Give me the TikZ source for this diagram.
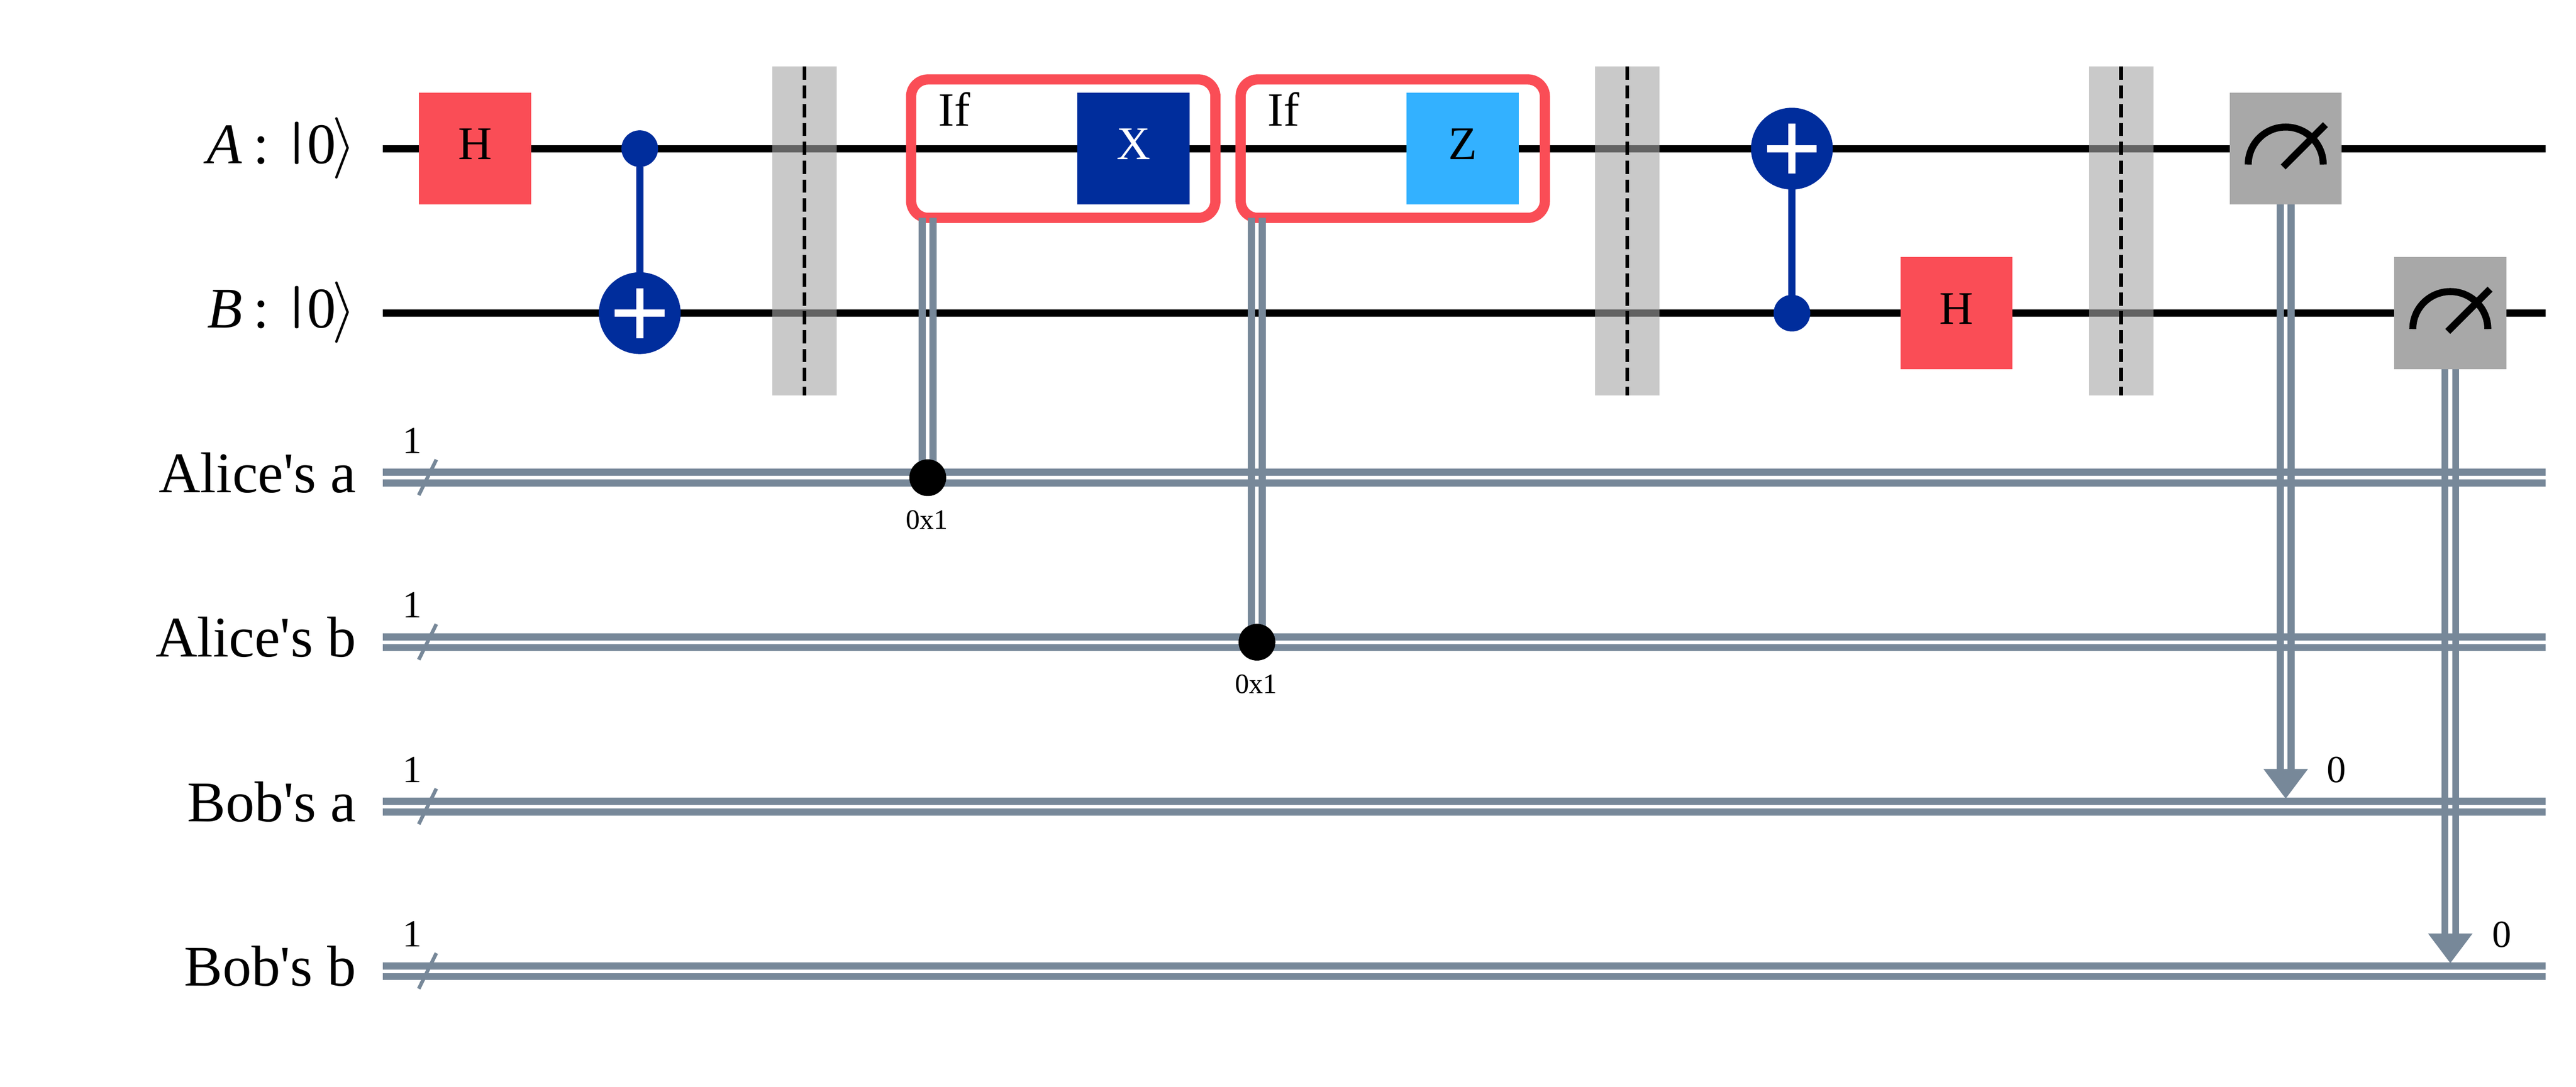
\documentclass[tikz,border=0pt]{standalone}
\usepackage{amsmath,amsfonts,amssymb}
\usepackage{fontspec}
\setmainfont{Liberation Serif}
\usetikzlibrary{arrows.meta}
\definecolor{gatered}{HTML}{FA4D56}
\definecolor{gateblue}{HTML}{002D9C}
\definecolor{gatesky}{HTML}{33B1FF}
\definecolor{gategray}{HTML}{A8A8A8}
\definecolor{slate}{HTML}{778899}
\definecolor{barrgray}{HTML}{A5A5A5}

\begin{document}
\begin{tikzpicture}[x=38.625pt, y=-38.625pt,
	qwire/.style={line width=1.66pt, black},
	cwire/.style={line width=1.66pt, slate},
	slash/.style={line width=.85pt, slate},
	wlabel/.style={anchor=base east, inner sep=0pt, font=\fontsize{13.5}{16}\selectfont},
	num/.style={inner sep=0pt, font=\fontsize{9}{11}\selectfont},
	hexval/.style={inner sep=0pt, font=\fontsize{6.6}{8}\selectfont},
	iflabel/.style={anchor=base west, inner sep=0pt, font=\fontsize{11.2}{13}\selectfont},
	gate/.style={minimum size=26.3pt, inner sep=0pt, outer sep=0pt, text height=7.26pt, text depth=2.2pt, font=\fontsize{11}{13}\selectfont},
	ifbox/.style={draw=gatered, line width=2.4pt, rounded corners=4pt, minimum width=71.4pt, minimum height=32.5pt, inner sep=0pt, outer sep=0pt},
	barr/.style={fill=barrgray, fill opacity=.6, minimum width=15.1pt, minimum height=77.2pt, inner sep=0pt, outer sep=0pt},
	barrline/.style={line width=.87pt, black, dash pattern=on 3.1pt off 1.32pt},
	ctrl/.style={circle, fill=gateblue, minimum size=8.6pt, inner sep=0pt, outer sep=0pt},
	tgt/.style={circle, fill=gateblue, minimum size=19.2pt, inner sep=0pt, outer sep=0pt},
	cx/.style={line width=1.7pt, gateblue},
	plus/.style={line width=1.7pt, white},
	dot/.style={circle, fill=black, minimum size=8.6pt, inner sep=0pt, outer sep=0pt},
	meter/.style={line width=1.64pt, black},
	tip/.style={cwire, -{Triangle[width=10pt, length=7pt]}}]
	
	\useasboundingbox (-2.8867,-.9036) rectangle (12.7638,5.7036);
	
	% Wire ends
	\coordinate (qAin) at (-.562,0);
	\coordinate (qAout) at (12.58,0);
	\coordinate (qBin) at (-.562,1);
	\coordinate (qBout) at (12.58,1);
	\coordinate (aliceAin) at (-.562,2);
	\coordinate (aliceAout) at (12.58,2);
	\coordinate (aliceBin) at (-.562,3);
	\coordinate (aliceBout) at (12.58,3);
	\coordinate (bobAin) at (-.562,4);
	\coordinate (bobAout) at (12.58,4);
	\coordinate (bobBin) at (-.562,5);
	\coordinate (bobBout) at (12.58,5);
	
	% Wire labels
	\node[wlabel] (labA) at (-.718,.09) {\textit{A}\hspace{2.6pt}:\hspace{3.5pt}\raisebox{2.3pt}{\scalebox{1.5}[.69]{$|$}}\hspace{-.6pt}0\hspace{-.9pt}$\rangle$\hspace{-2.2pt}};
	\node[wlabel] (labB) at (-.718,1.09) {\textit{B}\hspace{2.6pt}:\hspace{3.5pt}\raisebox{2.3pt}{\scalebox{1.5}[.69]{$|$}}\hspace{-.6pt}0\hspace{-.9pt}$\rangle$\hspace{-2.2pt}};
	\node[wlabel] (labAa) at (-.718,2.09) {Alice\textquotesingle s a};
	\node[wlabel] (labAb) at (-.718,3.09) {Alice\textquotesingle s b};
	\node[wlabel] (labBa) at (-.718,4.09) {Bob\textquotesingle s a};
	\node[wlabel] (labBb) at (-.718,5.09) {Bob\textquotesingle s b};
	
	% Quantum wires
	\draw[qwire] (qAin) -- (qAout);
	\draw[qwire] (qBin) -- (qBout);
	
	% Classical wires
	\draw[cwire] ([yshift=1.25pt]aliceAin) -- ([yshift=1.25pt]aliceAout);
	\draw[cwire] ([yshift=-1.25pt]aliceAin) -- ([yshift=-1.25pt]aliceAout);
	\draw[cwire] ([yshift=1.25pt]aliceBin) -- ([yshift=1.25pt]aliceBout);
	\draw[cwire] ([yshift=-1.25pt]aliceBin) -- ([yshift=-1.25pt]aliceBout);
	\draw[cwire] ([yshift=1.25pt]bobAin) -- ([yshift=1.25pt]bobAout);
	\draw[cwire] ([yshift=-1.25pt]bobAin) -- ([yshift=-1.25pt]bobAout);
	\draw[cwire] ([yshift=1.25pt]bobBin) -- ([yshift=1.25pt]bobBout);
	\draw[cwire] ([yshift=-1.25pt]bobBin) -- ([yshift=-1.25pt]bobBout);
	
	% Register sizes
	\draw[slash] (-.3425,2.1063) -- (-.2356,1.8904);
	\draw[slash] (-.3425,3.1063) -- (-.2356,2.8904);
	\draw[slash] (-.3425,4.1063) -- (-.2356,3.8904);
	\draw[slash] (-.3425,5.1063) -- (-.2356,4.8904);
	\node[num] (sizeAa) at (-.383,1.7755) {1};
	\node[num] (sizeAb) at (-.383,2.7755) {1};
	\node[num] (sizeBa) at (-.383,3.7755) {1};
	\node[num] (sizeBb) at (-.383,4.7755) {1};
	
	% Barriers
	\node[barr] (barrA) at (2,.5) {};
	\node[barr] (barrB) at (7,.5) {};
	\node[barr] (barrC) at (10,.5) {};
	\draw[barrline] (barrA.north) -- (barrA.south);
	\draw[barrline] (barrB.north) -- (barrB.south);
	\draw[barrline] (barrC.north) -- (barrC.south);
	
	% Gates
	\node[gate, fill=gatered] (hA) at (0,0) {H};
	\node[gate, fill=gatered] (hB) at (9,1) {H};
	\node[gate, fill=gateblue, text=white] (gateX) at (4,0) {X};
	\node[gate, fill=gatesky] (gateZ) at (6,0) {Z};
	
	% Controlled nots
	\node[ctrl] (ctrlA) at (1,0) {};
	\node[tgt] (tgtB) at (1,1) {};
	\draw[cx] (ctrlA) -- (tgtB);
	\draw[plus] ([yshift=5.85pt]tgtB.center) -- ([yshift=-5.85pt]tgtB.center);
	\draw[plus] ([xshift=-5.85pt]tgtB.center) -- ([xshift=5.85pt]tgtB.center);
	\node[ctrl] (ctrlB) at (8,1) {};
	\node[tgt] (tgtA) at (8,0) {};
	\draw[cx] (ctrlB) -- (tgtA);
	\draw[plus] ([yshift=5.85pt]tgtA.center) -- ([yshift=-5.85pt]tgtA.center);
	\draw[plus] ([xshift=-5.85pt]tgtA.center) -- ([xshift=5.85pt]tgtA.center);
	
	% Conditions
	\node[ifbox] (ifX) at (3.573,0) {};
	\node[ifbox] (ifZ) at (5.575,0) {};
	\node[iflabel] (ifXtxt) at (2.81,-.137) {If};
	\node[iflabel] (ifZtxt) at (4.81,-.137) {If};
	\node[dot] (dotX) at (2.75,2) {};
	\node[dot] (dotZ) at (4.75,3) {};
	\coordinate (footX) at (dotX |- ifX.south);
	\coordinate (footZ) at (dotZ |- ifZ.south);
	\draw[cwire] ([xshift=-1.27pt]footX) -- ([xshift=-1.27pt]dotX.center);
	\draw[cwire] ([xshift=1.27pt]footX) -- ([xshift=1.27pt]dotX.center);
	\draw[cwire] ([xshift=-1.27pt]footZ) -- ([xshift=-1.27pt]dotZ.center);
	\draw[cwire] ([xshift=1.27pt]footZ) -- ([xshift=1.27pt]dotZ.center);
	\node[dot] at (dotX) {};
	\node[dot] at (dotZ) {};
	\node[hexval] (hexX) at (2.745,2.255) {0x1};
	\node[hexval] (hexZ) at (4.745,3.255) {0x1};
	
	% Measurements
	\node[gate, fill=gategray] (measA) at (11,0) {};
	\node[gate, fill=gategray] (measB) at (12,1) {};
	\draw[meter] ([shift={(-8.8pt,-3.73pt)}]measA.center) arc (180:0:8.8pt);
	\draw[meter] ([shift={(-.6pt,-4.3pt)}]measA.center) -- ([shift={(9.33pt,5.64pt)}]measA.center);
	\draw[meter] ([shift={(-8.8pt,-3.73pt)}]measB.center) arc (180:0:8.8pt);
	\draw[meter] ([shift={(-.6pt,-4.3pt)}]measB.center) -- ([shift={(9.33pt,5.64pt)}]measB.center);
	
	\coordinate (baseA) at (11,3.772);
	\coordinate (tipA) at (11,3.952);
	\coordinate (baseB) at (12,4.772);
	\coordinate (tipB) at (12,4.952);
	\draw[cwire] ([xshift=-1.27pt]measA.south) -- ([xshift=-1.27pt]baseA);
	\draw[cwire] ([xshift=1.27pt]measA.south) -- ([xshift=1.27pt]baseA);
	\draw[cwire] ([xshift=-1.27pt]measB.south) -- ([xshift=-1.27pt]baseB);
	\draw[cwire] ([xshift=1.27pt]measB.south) -- ([xshift=1.27pt]baseB);
	\draw[tip] (baseA) -- (tipA);
	\draw[tip] (baseB) -- (tipB);
	\node[num] (bitA) at (11.31,3.777) {0};
	\node[num] (bitB) at (12.313,4.777) {0};
	
\end{tikzpicture}
\end{document}
